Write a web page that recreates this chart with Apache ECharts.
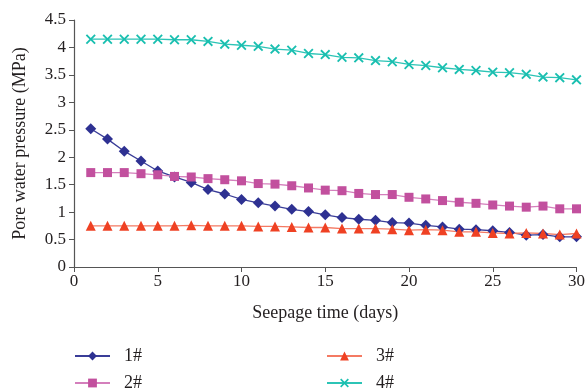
<!DOCTYPE html>
<html>
<head>
<meta charset="utf-8">
<script src="https://cdn.jsdelivr.net/npm/echarts@6/dist/echarts.min.js"></script>
<style>
  html, body { margin: 0; padding: 0; background: #fff; }
  #chart { width: 588px; height: 392px; }
</style>
</head>
<body>
<div id="chart"></div>
<script>
// seepage time in days
const days = [1, 2, 3, 4, 5, 6, 7, 8, 9, 10, 11, 12, 13, 14, 15, 16, 17, 18, 19, 20, 21, 22, 23, 24, 25, 26, 27, 28, 29, 30]

// pore water pressure (MPa)
const p1 = [2.52, 2.33, 2.11, 1.93, 1.75, 1.64, 1.54, 1.41, 1.33, 1.23, 1.17, 1.11, 1.05, 1.01, 0.95, 0.90, 0.87, 0.85, 0.81, 0.80, 0.76, 0.73, 0.69, 0.68, 0.66, 0.63, 0.58, 0.59, 0.55, 0.55]
const p2 = [1.72, 1.72, 1.72, 1.70, 1.68, 1.65, 1.64, 1.61, 1.59, 1.57, 1.52, 1.51, 1.48, 1.44, 1.40, 1.39, 1.34, 1.32, 1.32, 1.27, 1.24, 1.21, 1.18, 1.16, 1.13, 1.11, 1.09, 1.11, 1.06, 1.06]
const p3 = [0.75, 0.75, 0.75, 0.75, 0.75, 0.75, 0.76, 0.75, 0.75, 0.75, 0.74, 0.74, 0.73, 0.72, 0.72, 0.70, 0.70, 0.70, 0.69, 0.67, 0.68, 0.67, 0.64, 0.64, 0.62, 0.61, 0.62, 0.61, 0.59, 0.61]
const p4 = [4.15, 4.15, 4.15, 4.15, 4.15, 4.14, 4.14, 4.11, 4.06, 4.04, 4.02, 3.97, 3.95, 3.89, 3.87, 3.82, 3.81, 3.76, 3.74, 3.69, 3.67, 3.63, 3.60, 3.58, 3.55, 3.54, 3.51, 3.46, 3.45, 3.41]

const names = ['1#', '2#', '3#', '4#']

const font = 'Liberation Serif'
const txt = '#231f20'
const cross = 'path://M0,1.3L1.3,0L5,3.7L8.7,0L10,1.3L6.3,5L10,8.7L8.7,10L5,6.3L1.3,10L0,8.7L3.7,5Z'

const chart = echarts.init(document.getElementById('chart'))

function mk (name, vals, symbol, size, color, lineColor) {
  return {
    name: name,
    type: 'line',
    data: days.map((d, i) => [d, vals[i]]),
    symbol: symbol,
    symbolSize: size,
    showAllSymbol: true,
    itemStyle: { color: color },
    lineStyle: { color: lineColor, width: 1.3 },
    emphasis: { disabled: true }
  }
}

// one legend per entry, two columns of two rows
function lg (name, left, top) {
  return {
    data: [name],
    left: left,
    top: top,
    padding: 0,
    itemWidth: 35,
    itemHeight: 11,
    textStyle: { fontFamily: font, fontSize: 18, color: txt, padding: [0, 0, 0, 9] }
  }
}

const option = {
  animation: false,
  textStyle: { fontFamily: font },
  grid: { left: 74, right: 11, top: 20, bottom: 125 },
  xAxis: {
    type: 'value',
    min: 0,
    max: 30,
    interval: 5,
    name: 'Seepage time (days)',
    nameLocation: 'middle',
    nameGap: 37,
    nameTextStyle: { fontFamily: font, fontSize: 18, color: txt },
    axisLine: { lineStyle: { color: '#555', width: 1.2 } },
    axisTick: { inside: false, length: 5, lineStyle: { color: '#555' } },
    axisLabel: { fontFamily: font, fontSize: 17, color: txt, margin: 6 },
    splitLine: { show: false }
  },
  yAxis: {
    type: 'value',
    min: 0,
    max: 4.5,
    interval: 0.5,
    name: 'Pore water pressure (MPa)',
    nameLocation: 'middle',
    nameGap: 45,
    nameTextStyle: { fontFamily: font, fontSize: 18, color: txt },
    axisLine: { show: true, lineStyle: { color: '#555', width: 1.2 } },
    axisTick: { show: true, length: 5, lineStyle: { color: '#555' } },
    axisLabel: { fontFamily: font, fontSize: 17, color: txt, margin: 8 },
    splitLine: { show: false }
  },
  legend: [
    lg(names[0], 74, 347),
    lg(names[1], 74, 374),
    lg(names[2], 326, 347),
    lg(names[3], 326, 374)
  ],
  series: [
    mk(names[0], p1, 'diamond', 11, '#2e3192', '#3a3d98'),
    mk(names[1], p2, 'rect', 9, '#c2509e', '#d47fbc'),
    mk(names[2], p3, 'triangle', 10, '#ef4123', '#f47a63'),
    mk(names[3], p4, cross, 10, '#19bfb0', '#2cc4b6')
  ]
}

chart.setOption(option)
window.addEventListener('resize', () => {
  chart.resize()
})
</script>
</body>
</html>
